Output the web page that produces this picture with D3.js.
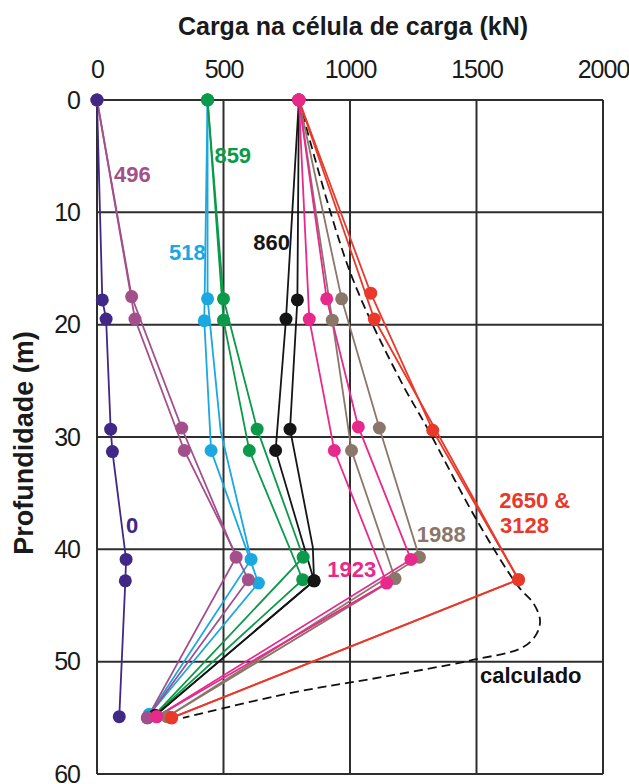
<!DOCTYPE html>
<html>
<head>
<meta charset="utf-8">
<script src="https://cdn.jsdelivr.net/npm/d3@7"></script>
<style>
  html, body { margin: 0; padding: 0; background: #fff; }
  svg { display: block; }
  text { font-family: "Liberation Sans", Arial, Helvetica, sans-serif; }
</style>
</head>
<body>
<svg id="chart" width="629" height="784"></svg>
<script>
// Axis ticks
const loadTicks = [0, 500, 1000, 1500, 2000];
const depthTicks = [0, 10, 20, 30, 40, 50, 60];

// Load-cell readings per head load (kN) vs depth (m).
// Each load stage has two gauge profiles; gauge = 0 marks a bend without a reading.
const stage0Depth  = [0, 17.8, 19.5, 29.3, 31.3, 40.9, 42.8, 54.9];
const stage0Load   = [0, 21, 36, 54, 61, 115, 112, 88];

const stage496aDepth = [0, 17.5, 29.2, 40.7, 55.0];
const stage496aLoad  = [0, 137, 335, 550, 199];
const stage496bDepth = [0, 19.5, 31.2, 42.7, 55.0];
const stage496bLoad  = [0, 150, 345, 598, 199];

const stage518aDepth = [0, 17.7, 29.5, 40.9, 54.7];
const stage518aLoad  = [437, 437, 489, 609, 207];
const stage518aGauge = [1, 1, 0, 1, 1];
const stage518bDepth = [0, 19.65, 31.2, 43.0, 54.7];
const stage518bLoad  = [437, 424, 451, 638, 207];

const stage859aDepth = [0, 17.7, 29.3, 40.7, 54.8];
const stage859aLoad  = [437, 500, 633, 815, 225];
const stage859bDepth = [0, 19.6, 31.2, 42.7, 54.8];
const stage859bLoad  = [437, 500, 602, 813, 225];

const stage860aDepth = [0, 17.8, 29.3, 39.8, 42.8, 54.8];
const stage860aLoad  = [798, 792, 763, 853, 858, 230];
const stage860aGauge = [1, 1, 1, 0, 1, 1];
const stage860bDepth = [0, 19.5, 31.2, 42.8, 54.8];
const stage860bLoad  = [798, 747, 706, 858, 230];

const stage1923aDepth = [0, 17.7, 29.1, 40.9, 54.9];
const stage1923aLoad  = [798, 908, 1033, 1241, 236];
const stage1923bDepth = [0, 19.5, 31.2, 43.0, 54.9];
const stage1923bLoad  = [798, 839, 938, 1145, 236];

const stage1988aDepth = [0, 17.7, 29.2, 40.7, 54.9];
const stage1988aLoad  = [798, 967, 1116, 1274, 278];
const stage1988bDepth = [0, 19.6, 31.2, 42.6, 54.9];
const stage1988bLoad  = [798, 930, 1006, 1178, 278];

const stage2650aDepth = [0, 17.2, 29.4, 42.7, 55.0];
const stage2650aLoad  = [798, 1082, 1327, 1666, 295];
const stage2650bDepth = [0, 19.5, 42.7, 55.0];
const stage2650bLoad  = [798, 1096, 1666, 295];

// Computed load distribution
const calcDepth = [0, 15.3, 24.9, 29.1, 37.4, 43.3, 44.8, 46.3, 47.5, 48.7, 49.9, 51.4, 52.8, 55.0];
const calcLoad  = [798, 1000, 1198, 1303, 1501, 1665, 1725, 1751, 1738, 1685, 1474, 1119, 763, 340];

const colors = {
  s0: "#3f2886", s496: "#a24f8b", s518: "#1ba7e0", s859: "#0b9a4a",
  s860: "#151515", s1923: "#e8298c", s1988: "#8b766a", s2650: "#e8392b", calc: "#111"
};

function prof(depth, load, color, gauge) {
  return depth.map((d, i) => ({ d, q: load[i], g: gauge ? gauge[i] : 1, color }));
}

// Drawing order (later on top)
const profiles = [
  prof(stage518aDepth, stage518aLoad, colors.s518, stage518aGauge),
  prof(stage518bDepth, stage518bLoad, colors.s518),
  prof(stage859aDepth, stage859aLoad, colors.s859),
  prof(stage859bDepth, stage859bLoad, colors.s859),
  prof(stage860aDepth, stage860aLoad, colors.s860, stage860aGauge),
  prof(stage860bDepth, stage860bLoad, colors.s860),
  prof(stage496aDepth, stage496aLoad, colors.s496),
  prof(stage496bDepth, stage496bLoad, colors.s496),
  prof(stage1988aDepth, stage1988aLoad, colors.s1988),
  prof(stage1988bDepth, stage1988bLoad, colors.s1988),
  prof(stage2650aDepth, stage2650aLoad, colors.s2650),
  prof(stage2650bDepth, stage2650bLoad, colors.s2650),
  prof(stage1923aDepth, stage1923aLoad, colors.s1923),
  prof(stage1923bDepth, stage1923bLoad, colors.s1923),
  prof(stage0Depth, stage0Load, colors.s0)
];

const labels = [
  { text: "496", q: 67, d: 7.3, color: colors.s496 },
  { text: "859", q: 464, d: 5.6, color: colors.s859 },
  { text: "518", q: 285, d: 14.25, color: colors.s518 },
  { text: "860", q: 618, d: 13.36, color: colors.s860 },
  { text: "0", q: 115, d: 38.53, color: colors.s0 },
  { text: "1923", q: 910, d: 42.45, color: colors.s1923 },
  { text: "1988", q: 1264, d: 39.33, color: colors.s1988 },
  { text: "2650 &", q: 1590, d: 36.3, color: colors.s2650 },
  { text: "3128", q: 1593, d: 38.56, color: colors.s2650 },
  { text: "calculado", q: 1514, d: 51.9, color: "#111" }
];

const svg = d3.select("#chart");
const plotL = 97, plotR = 603, plotT = 100, plotB = 774;

const x = d3.scaleLinear().domain([0, 2000]).range([plotL, plotR]);
const y = d3.scaleLinear().domain([0, 60]).range([plotT, plotB]);

// Grid
const grid = svg.append("g").attr("stroke", "#2e2e2e").attr("stroke-width", 2);
grid.selectAll("line.v").data(loadTicks).join("line").attr("class", "v")
  .attr("x1", d => x(d)).attr("x2", d => x(d))
  .attr("y1", plotT).attr("y2", plotB);
grid.selectAll("line.h").data(depthTicks).join("line").attr("class", "h")
  .attr("y1", d => y(d)).attr("y2", d => y(d))
  .attr("x1", plotL).attr("x2", plotR);

// Top axis tick labels
const xAxis = d3.axisTop(x).tickValues(loadTicks).tickFormat(d3.format("d"))
  .tickSize(0).tickPadding(22);
const gx = svg.append("g").attr("transform", `translate(0,${plotT})`).call(xAxis);
gx.select(".domain").remove();
gx.selectAll("text").attr("font-size", 25).attr("fill", "#1a1a1a")
  .attr("letter-spacing", "-1px")
  .style("font-family", '"Liberation Sans", Arial, sans-serif');

// Left axis tick labels
const yAxis = d3.axisLeft(y).tickValues(depthTicks).tickFormat(d3.format("d"))
  .tickSize(0).tickPadding(17);
const gy = svg.append("g").attr("transform", `translate(${plotL},0)`).call(yAxis);
gy.select(".domain").remove();
gy.selectAll("text").attr("font-size", 25).attr("fill", "#1a1a1a")
  .attr("letter-spacing", "-1px")
  .style("font-family", '"Liberation Sans", Arial, sans-serif');

// Axis titles
svg.append("text").attr("x", 353).attr("y", 35).attr("text-anchor", "middle")
  .attr("font-size", 25).attr("font-weight", "bold").attr("fill", "#1a1a1a")
  .text("Carga na célula de carga (kN)");
svg.append("text").attr("transform", "translate(33,443) rotate(-90)")
  .attr("text-anchor", "middle").attr("font-size", 27).attr("font-weight", "bold")
  .attr("fill", "#1a1a1a").text("Profundidade (m)");

// Computed curve
const calcPts = calcDepth.map((d, i) => ({ d, q: calcLoad[i] }));
svg.append("path").datum(calcPts)
  .attr("fill", "none").attr("stroke", colors.calc).attr("stroke-width", 1.8)
  .attr("stroke-dasharray", "9,5")
  .attr("d", d3.line().x(p => x(p.q)).y(p => y(p.d)).curve(d3.curveCatmullRom.alpha(0.5)));

// Measured profiles
const lineGen = d3.line().x(p => x(p.q)).y(p => y(p.d));
svg.append("g").selectAll("path").data(profiles).join("path")
  .attr("fill", "none").attr("stroke", p => p[0].color).attr("stroke-width", 1.8)
  .attr("d", lineGen);

const dots = svg.append("g");
profiles.forEach(p => {
  dots.append("g").selectAll("circle").data(p.filter(v => v.g)).join("circle")
    .attr("cx", v => x(v.q)).attr("cy", v => y(v.d)).attr("r", 6.5)
    .attr("fill", v => v.color);
});

// Stage labels
svg.append("g").selectAll("text").data(labels).join("text")
  .attr("x", l => x(l.q)).attr("y", l => y(l.d))
  .attr("font-size", 22).attr("font-weight", "bold")
  .attr("fill", l => l.color).text(l => l.text);
</script>
</body>
</html>
